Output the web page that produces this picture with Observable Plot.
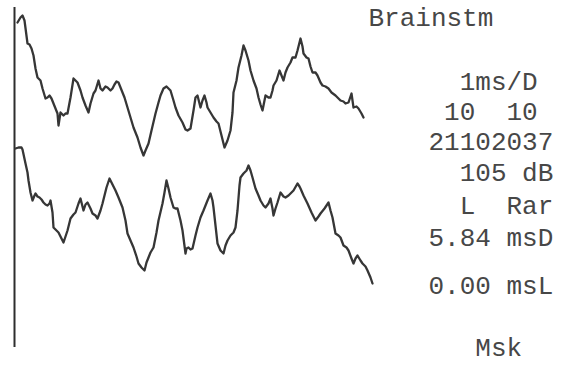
<!DOCTYPE html>
<html>
<head>
<meta charset="utf-8">
<script src="https://cdn.jsdelivr.net/npm/d3@7"></script>
<script src="https://cdn.jsdelivr.net/npm/@observablehq/plot@0.6"></script>
<style>
  html, body { margin: 0; padding: 0; background: #fff; }
  #chart svg { display: block; white-space: pre; }
</style>
</head>
<body>
<div id="chart"></div>
<script>
// Brainstem evoked response, two averaged sweeps (1 ms per division).
// Time is in display samples from the sweep start, amplitude in display units
// relative to each trace's own baseline.

const upperT = [3,6,8,10,13,15,17,19,21,23,26,28,31,33,35,37,39,41,43,44,46,49,51,53,56,59,61,63,66,68,71,74,76,79,81,84,86,88,91,93,96,98,100,102,104,106,110,113,116,119,123,126,129,131,134,137,141,144,146,149,152,154,156,159,161,164,168,171,173,176,179,181,183,185,186,188,190,192,193,196,199,202,204,207,210,213,216,218,219,222,224,227,229,231,234,236,239,242,244,246,248,250,251,254,256,258,259,262,265,267,269,271,273,276,278,281,283,286,288,289,292,294,296,298,301,303,306,308,311,314,317,321,324,326,329,331,334,337,338,339,342,344,347,349];
const upperA = [78,83,85,80,57,56,52,45,32,23,20,12,2,3,5,2,-3,-8,-13,-25,-12,-15,-13,-13,3,22,20,18,10,3,-5,-12,-3,7,10,20,12,10,14,13,10,12,16,19,18,13,3,-7,-17,-27,-37,-47,-55,-50,-43,-30,-13,-2,5,12,14,12,10,0,-7,-15,-22,-29,-30,-28,-10,3,5,-3,-7,0,5,-2,-7,-12,-17,-21,-23,-35,-47,-40,-30,-12,8,20,33,45,55,50,40,30,20,12,3,-4,-10,0,5,3,3,10,15,20,30,25,20,28,33,38,43,43,50,62,54,47,43,42,34,28,28,25,18,15,14,12,8,5,2,0,-1,-3,-2,7,0,-7,-6,-8,-13,-17];

const lowerT = [1,4,7,8,11,13,14,16,18,20,21,23,25,27,29,31,33,35,36,38,39,41,44,46,49,51,53,56,59,61,64,66,68,69,71,73,76,78,81,83,86,88,90,92,95,98,101,104,108,111,113,116,119,122,124,127,130,132,134,136,139,142,144,148,150,152,154,156,159,161,163,166,168,171,172,174,176,178,181,183,186,189,193,196,198,199,201,203,206,209,211,213,216,219,221,223,225,226,229,232,234,236,238,241,244,246,249,251,254,256,258,259,261,263,266,269,271,274,276,279,283,285,286,289,293,297,301,304,306,310,314,316,318,321,324,326,329,332,334,337,339,341,343,346,348,351,353,356,358];
const lowerA = [72,73,73,71,57,48,40,28,20,25,27,24,23,21,18,16,15,17,20,8,-7,-9,-12,-16,-22,-16,-10,2,6,8,17,22,14,10,16,18,12,7,5,2,10,17,25,33,42,36,30,23,13,0,-13,-20,-27,-36,-43,-47,-50,-42,-37,-32,-27,-12,0,17,28,40,32,23,13,12,12,0,-10,-33,-28,-27,-29,-28,-15,-7,3,10,20,27,20,13,-5,-23,-30,-33,-25,-20,-15,-12,-7,10,35,43,47,50,55,50,43,32,25,20,15,13,17,22,12,5,12,18,28,24,23,25,27,30,37,34,32,25,17,8,0,4,7,12,18,10,3,-13,-15,-17,-25,-27,-30,-38,-43,-38,-35,-40,-43,-46,-50,-57,-63];

// Vertical position of each trace's baseline on the page.
const traceNames = ["upper", "lower"];
const traceBaseline = [265, 145];

// Reference line at sweep start.
const sweepStart = [0];
const railTop = 358;
const railBottom = 18;

// Instrument settings printed beside the traces.
const settingLines = ["Brainstm", "  1ms/D", " 10  10", "21102037", "  105 dB", "  L  Rar", "5.84 msD", "0.00 msL", "   Msk"];
const settingColumn = [354, 414, 414, 414, 414, 414, 414, 414, 414];
const settingRow = [348, 284, 254, 224, 193, 160, 128, 80, 18];

const rows = [];
[[upperT, upperA], [lowerT, lowerA]].forEach(([ts, as], k) => {
  ts.forEach((t, i) => rows.push({trace: traceNames[k], t, v: as[i] + traceBaseline[k]}));
});
const labels = settingLines.map((s, i) => ({s, x: settingColumn[i], y: settingRow[i]}));

const chart = Plot.plot({
  width: 570,
  height: 365,
  margin: 0,
  x: {domain: [0, 556], range: [14, 570], axis: null},
  y: {domain: [0, 365], range: [365, 0], axis: null},
  style: {background: "#fff"},
  marks: [
    Plot.ruleX(sweepStart, {y1: railTop, y2: railBottom, stroke: "#2e2e2e", strokeWidth: 2}),
    Plot.line(rows, {x: "t", y: "v", z: "trace", stroke: "#363636", strokeWidth: 2.3,
      strokeLinejoin: "round", curve: "linear"}),
    Plot.text(labels, {x: "x", y: "y", text: "s", textAnchor: "start", lineAnchor: "middle",
      fontFamily: "Liberation Mono", fontSize: 26, fill: "#474747"})
  ]
});
document.getElementById("chart").append(chart);
</script>
</body>
</html>
